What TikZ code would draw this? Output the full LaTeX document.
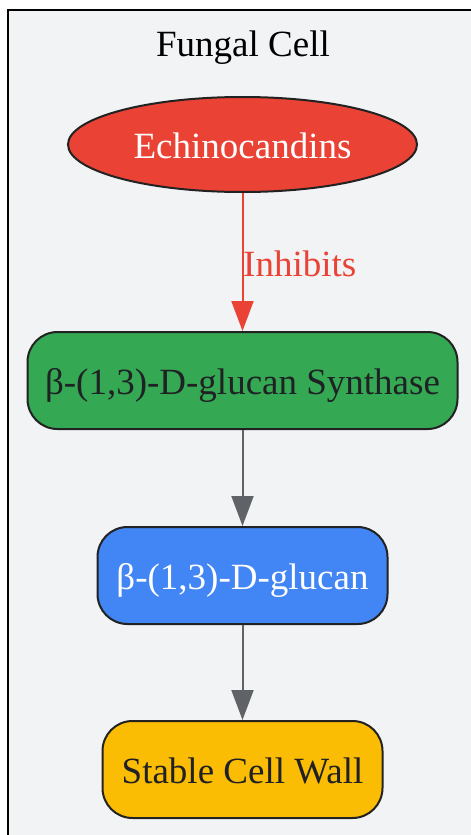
\documentclass[tikz,border=0pt]{standalone}
\usepackage{fontspec}
\setmainfont{Liberation Serif}
\usetikzlibrary{shapes.geometric,arrows.meta}
\definecolor{clfill}{HTML}{F1F3F4}
\definecolor{gred}{HTML}{EA4335}
\definecolor{ggreen}{HTML}{34A853}
\definecolor{gblue}{HTML}{4285F4}
\definecolor{gyellow}{HTML}{FBBC04}
\definecolor{gdark}{HTML}{202124}
\definecolor{ggrey}{HTML}{5F6368}
\definecolor{gborder}{HTML}{222222}
\tikzset{
  nodefont/.style={font=\fontsize{37}{44}\selectfont, text height=27pt, text depth=0pt, inner sep=0pt},
  boxnode/.style={nodefont, draw=gborder, line width=2pt, rounded corners=30pt, rectangle, minimum height=97pt},
  ovalnode/.style={nodefont, draw=gborder, line width=2pt, ellipse, minimum width=349pt, minimum height=95pt},
  arr/.style={line width=2pt, -{Triangle[length=30pt,width=22pt]}},
}
\begin{document}
\begin{tikzpicture}[x=1pt,y=-1pt]
\useasboundingbox (0,0) rectangle (471,835);
\clip (0,0) rectangle (471,835);
\fill[white] (0,0) rectangle (471,835);
\draw[fill=clfill, line width=2pt, draw=black] (8,10) rectangle (490,860);
\node[font=\fontsize{37}{44}\selectfont, anchor=base, inner sep=0pt] (title) at (243,56) {Fungal Cell};
\node[ovalnode, fill=gred, text=white] (ech) at (242.5,144.5) {Echinocandins};
\node[boxnode, fill=ggreen, text=gdark, minimum width=430pt] (syn) at (242.5,380.5) {β-(1,3)-D-glucan Synthase};
\node[boxnode, fill=gblue, text=white, minimum width=290pt] (glu) at (242.5,575.5) {β-(1,3)-D-glucan};
\node[boxnode, fill=gyellow, text=gdark, minimum width=280pt] (wall) at (242.5,769.5) {Stable Cell Wall};
\draw[arr, draw=gred, fill=gred] (ech) -- (syn);
\node[font=\fontsize{37}{44}\selectfont, text=gred, anchor=base west, inner sep=0pt] (lbl) at (243,276) {Inhibits};
\draw[arr, draw=ggrey, fill=ggrey] (syn) -- (glu);
\draw[arr, draw=ggrey, fill=ggrey] (glu) -- (wall);
\end{tikzpicture}
\end{document}
